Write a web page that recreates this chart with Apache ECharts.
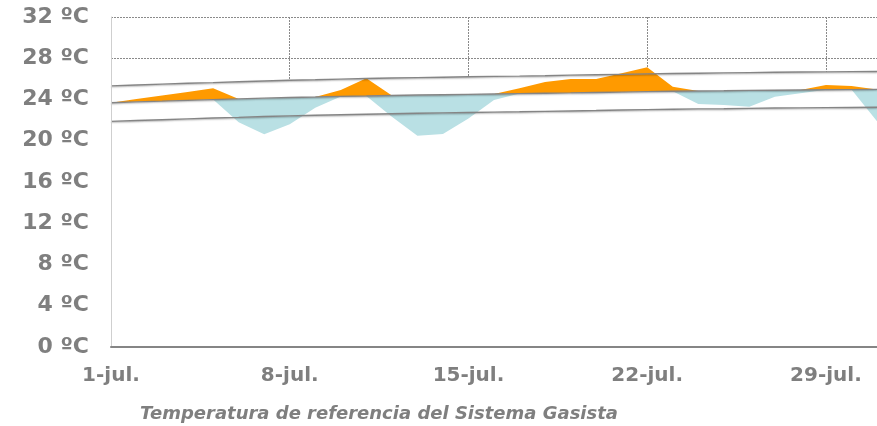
<!DOCTYPE html>
<html>
<head>
<meta charset="utf-8">
<script src="https://cdn.jsdelivr.net/npm/echarts@6/dist/echarts.min.js"></script>
<style>
html,body{margin:0;padding:0;background:#fff;}
#c{width:877px;height:426px;}
</style>
</head>
<body>
<div id="c"></div>
<script>
const days = ['1-jul.','2-jul.','3-jul.','4-jul.','5-jul.','6-jul.','7-jul.','8-jul.','9-jul.','10-jul.',
  '11-jul.','12-jul.','13-jul.','14-jul.','15-jul.','16-jul.','17-jul.','18-jul.','19-jul.','20-jul.',
  '21-jul.','22-jul.','23-jul.','24-jul.','25-jul.','26-jul.','27-jul.','28-jul.','29-jul.','30-jul.','31-jul.'];

// Temperatura real (ºC)
const actual = [23.69,24.04,24.38,24.73,25.08,21.79,20.62,21.60,23.20,24.92,
  26.05,22.33,20.49,20.65,22.15,23.95,25.10,25.70,25.98,26.00,
  26.54,27.12,25.24,23.56,23.47,23.30,24.27,24.60,25.40,25.31,21.90];

// Temperatura normal (ºC)
const normal = [23.69,23.77,23.84,23.92,23.99,24.06,24.13,24.19,24.24,24.30,
  24.34,24.39,24.43,24.46,24.50,24.53,24.57,24.61,24.64,24.68,
  24.72,24.76,24.80,24.83,24.85,24.88,24.90,24.92,24.94,24.96,24.98];

// Banda superior (ºC)
const upperBand = [25.32,25.40,25.49,25.57,25.64,25.72,25.80,25.87,25.92,25.98,
  26.03,26.08,26.12,26.16,26.20,26.24,26.27,26.31,26.36,26.40,
  26.44,26.48,26.52,26.55,26.58,26.61,26.64,26.66,26.68,26.70,26.72];

// Banda inferior (ºC)
const lowerBand = [21.88,21.96,22.04,22.12,22.20,22.27,22.35,22.41,22.47,22.52,
  22.57,22.62,22.66,22.70,22.74,22.78,22.81,22.85,22.89,22.93,
  22.98,23.02,23.06,23.09,23.11,23.14,23.17,23.19,23.21,23.23,23.25];

const yMin = 0, yMax = 32, yStep = 4;
const titleText = 'Temperatura de referencia del Sistema Gasista';

// derived stacks
const baseStack = actual.map((v,i)=>Math.min(v, normal[i]));
const coldStack = actual.map((v,i)=>normal[i] - Math.min(v, normal[i]));
const warmStack = actual.map((v,i)=>Math.max(v, normal[i]) - normal[i]);

const labelColor = '#7f7f7f';
const font = 'DejaVu Sans';
const bandLine = {color:'#858585', width:1.4, shadowColor:'rgba(0,0,0,0.28)', shadowBlur:1.5, shadowOffsetY:1};

const chart = echarts.init(document.getElementById('c'), null, {renderer:'canvas'});
chart.setOption({
  animation:false,
  backgroundColor:'#ffffff',
  grid:{left:111, right:-1, top:17, bottom:79, containLabel:false},
  xAxis:[{
    type:'category', data:days, boundaryGap:false, z:10,
    axisLine:{show:true, lineStyle:{color:'#858585', width:2}},
    axisTick:{show:false},
    axisLabel:{interval:6, margin:19, color:labelColor, fontFamily:font, fontWeight:'bold', fontSize:20},
    splitLine:{show:false}
  },{
    type:'category', data:days, boundaryGap:false, position:'top', z:0,
    axisLine:{show:false}, axisTick:{show:false}, axisLabel:{show:false},
    splitLine:{show:true, interval:6, lineStyle:{color:'#8a8a8a', width:1, type:[2,1]}}
  }],
  yAxis:[{
    type:'value', min:yMin, max:yMax, interval:yStep, z:0,
    axisLine:{show:false}, axisTick:{show:false},
    axisLabel:{margin:22, color:labelColor, fontFamily:font, fontWeight:'bold', fontSize:22,
      formatter:v=>v+' ºC'},
    splitLine:{show:true, lineStyle:{color:'#8a8a8a', width:1, type:[2,1]}}
  },{
    type:'value', min:yMin, max:yMax, interval:yStep, position:'left', z:10,
    axisLine:{show:true, lineStyle:{color:'#cfcfcf', width:1}}, axisTick:{show:false},
    axisLabel:{show:false}, splitLine:{show:false}
  }],
  series:[
    {type:'line', data:upperBand, symbol:'none', lineStyle:{opacity:0}, areaStyle:{color:'#ffffff', opacity:1}, silent:true},
    {type:'line', stack:'t', data:baseStack, symbol:'none', lineStyle:{opacity:0}, silent:true},
    {type:'line', stack:'t', data:coldStack, symbol:'none', lineStyle:{opacity:0}, areaStyle:{color:'#b9e0e4', opacity:1}, silent:true},
    {type:'line', stack:'t', data:warmStack, symbol:'none', lineStyle:{opacity:0}, areaStyle:{color:'#ff9a00', opacity:1}, silent:true},
    {type:'line', data:upperBand, symbol:'none', lineStyle:bandLine, silent:true},
    {type:'line', data:normal, symbol:'none', lineStyle:bandLine, silent:true},
    {type:'line', data:lowerBand, symbol:'none', lineStyle:bandLine, silent:true}
  ],
  graphic:[{
    type:'text', left:null, x:379, y:414,
    style:{text:titleText, x:0, y:0, align:'center', verticalAlign:'middle',
      fill:labelColor, font:'italic bold 18px "DejaVu Sans"'}
  }]
});
</script>
</body>
</html>
